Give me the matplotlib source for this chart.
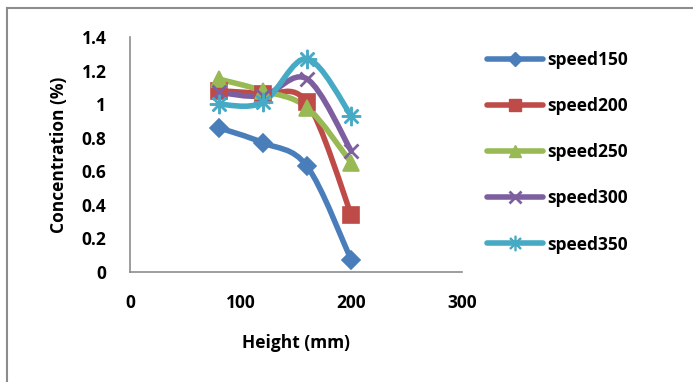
import numpy as np
import matplotlib
matplotlib.use('Agg')
import matplotlib.pyplot as plt
from matplotlib.path import Path
from matplotlib.patches import PathPatch
from matplotlib.lines import Line2D

height = [80, 120, 160, 200]
speed150 = [0.86, 0.77, 0.63, 0.07]
speed200 = [1.08, 1.06, 1.01, 0.34]
speed250 = [1.15, 1.08, 0.98, 0.65]
speed300 = [1.07, 1.05, 1.15, 0.72]
speed350 = [1.00, 1.01, 1.27, 0.93]

series = [
    ('speed150', speed150, '#4a7ebb', 'D', 9),
    ('speed200', speed200, '#be4b48', 's', 11),
    ('speed250', speed250, '#98b954', '^', 11),
    ('speed300', speed300, '#7d5fa0', 'x', 10),
    ('speed350', speed350, '#46aac5', '$\u2733$', 13),
]

plt.rcParams['font.family'] = ['Open Sans', 'DejaVu Sans']
plt.rcParams['font.weight'] = 'bold'


def smooth_path(xs, ys, t=1/6):
    # cubic bezier segments through every point, like a spreadsheet "smoothed line"
    pts = np.column_stack([xs, ys]).astype(float)
    verts = [pts[0]]
    codes = [Path.MOVETO]
    n = len(pts)
    for i in range(n - 1):
        p0 = pts[i - 1] if i > 0 else pts[i]
        p1 = pts[i]
        p2 = pts[i + 1]
        p3 = pts[i + 2] if i + 2 < n else pts[i + 1]
        c1 = p1 + (p2 - p0) * t
        c2 = p2 - (p3 - p1) * t
        verts += [c1, c2, p2]
        codes += [Path.CURVE4] * 3
    return Path(verts, codes)


fig = plt.figure(figsize=(6.93, 3.82), dpi=100)
ax = fig.add_axes([130/693, 1 - 272/382, (462 - 130)/693, (272 - 37)/382])

handles = []
for name, vals, col, mk, ms in series:
    ax.add_patch(PathPatch(smooth_path(height, vals), facecolor='none',
                           edgecolor=col, lw=4, capstyle='round', zorder=2))
    ax.plot(height, vals, ls='none', marker=mk, ms=ms, color=col, mec=col,
            mew=2 if mk == 'x' else 1.2, zorder=3)
    handles.append(Line2D([0], [0], color=col, lw=4, marker=mk, ms=ms*0.8,
                          mec=col, mew=2 if mk == 'x' else 1,
                          solid_capstyle='round'))

ax.set_xlim(0, 300)
ax.set_ylim(0, 1.4)
ax.set_xticks([0, 100, 200, 300])
ax.set_yticks([0, 0.2, 0.4, 0.6, 0.8, 1.0, 1.2, 1.4])
ax.set_yticklabels(['0', '0.2', '0.4', '0.6', '0.8', '1', '1.2', '1.4'])
for s in ['top', 'right']:
    ax.spines[s].set_visible(False)
for s in ['left', 'bottom']:
    ax.spines[s].set_color('#8c8c8c')
    ax.spines[s].set_linewidth(1.2)
ax.tick_params(length=0, labelsize=12.5)
ax.tick_params(axis='y', pad=17)
ax.tick_params(axis='x', pad=16)
for lab in ax.get_xticklabels() + ax.get_yticklabels():
    lab.set_fontweight('bold')
ax.set_xlabel('Height (mm)', fontsize=12.5, fontweight='bold', labelpad=16)
ax.set_ylabel('Concentration (%)', fontsize=12.5, fontweight='bold', labelpad=10)

leg = fig.legend(handles, [s[0] for s in series], loc='upper left',
                 bbox_to_anchor=(487/693, 1 - 51/382), frameon=False,
                 borderpad=0, borderaxespad=0,
                 prop={'size': 12.5, 'weight': 'bold'}, handlelength=3.2,
                 labelspacing=1.62, handletextpad=0.25)

# chart area border (left and top edges)
fig.add_artist(Line2D([7/693, 7/693], [0, 1 - 8/382], color='#8c8c8c', lw=1.5))
fig.add_artist(Line2D([7/693, 1], [1 - 8/382, 1 - 8/382], color='#8c8c8c', lw=1.5))

fig.savefig('out.png', dpi=100)
